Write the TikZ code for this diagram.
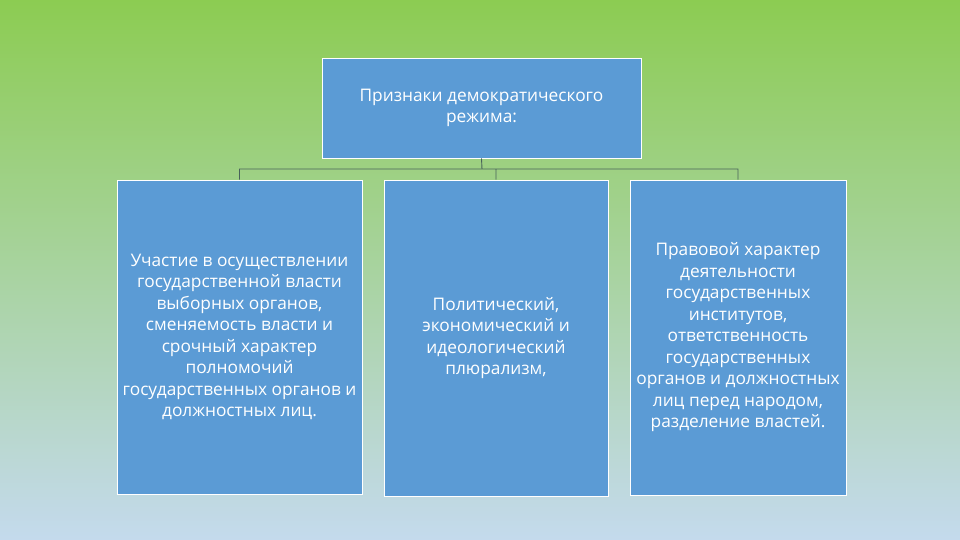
\documentclass[tikz,border=0pt]{standalone}
\usepackage{fontspec}
\setmainfont{Open Sans}
\usepackage{tikz}
\usetikzlibrary{arrows}

\definecolor{topgreen}{RGB}{140,204,82}
\definecolor{midgreen}{RGB}{160,206,168}
\definecolor{lowblue}{RGB}{196,218,237}
\definecolor{boxblue}{RGB}{91,155,213}
\definecolor{linkgray}{RGB}{72,98,90}

\begin{document}
\begin{tikzpicture}[x=1pt,y=-1pt,
  head node/.style={rectangle,fill=boxblue,draw=white,line width=0.8pt,text=white,align=center,font=\fontsize{17.3}{21.5}\selectfont,minimum width=319pt,minimum height=100pt,inner sep=0pt},
  item node/.style={rectangle,fill=boxblue,draw=white,line width=0.8pt,text=white,align=center,font=\fontsize{17.3}{21.5}\selectfont,inner sep=0pt},
  link/.style={draw=linkgray,line width=0.9pt}]

  \useasboundingbox (0,0) rectangle (960,540);
  \shade[top color=topgreen,middle color=midgreen,bottom color=lowblue] (0,0) rectangle (960,540);

  \node[head node] (0) at (481.5,108) {Признаки демократического\\режима:};
  \node[item node,minimum width=245pt,minimum height=314pt] (1) at (239.5,337) {Участие в осуществлении\\государственной власти\\выборных органов,\\сменяемость власти и\\срочный характер\\полномочий\\государственных органов и\\должностных лиц.};
  \node[item node,minimum width=224pt,minimum height=316pt] (2) at (496,338) {Политический,\\экономический и\\идеологический\\плюрализм,};
  \node[item node,minimum width=216pt,minimum height=315pt] (3) at (738,337.5) {Правовой характер\\деятельности\\государственных\\институтов,\\ответственность\\государственных\\органов и должностных\\лиц перед народом,\\разделение властей.};

  \coordinate (bus) at (482,169);
  \path[link]
    (0.south) -- (bus)
    (bus) -| (1.north)
    (bus) -| (2.north)
    (bus) -| (3.north);
\end{tikzpicture}
\end{document}
